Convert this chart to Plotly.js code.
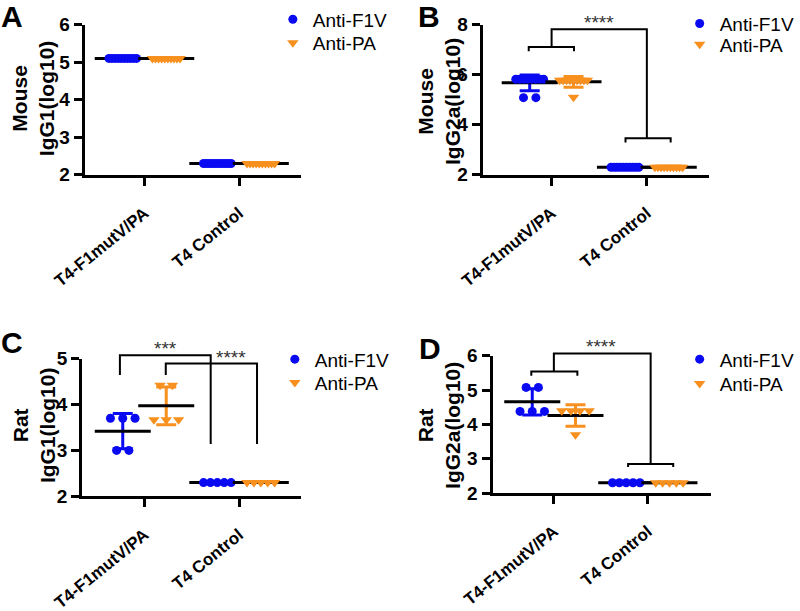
<!DOCTYPE html>
<html>
<head>
<meta charset="utf-8">
<script src="https://cdn.plot.ly/plotly-3.0.1.min.js"></script>
<style>body{margin:0;background:#fff;} #chart{width:800px;height:611px;}</style>
</head>
<body>
<div id="chart"></div>
<script>
// ---------- data ----------
const categories = ['T4-F1mutV/PA', 'T4 Control'];
const seriesNames = ['Anti-F1V', 'Anti-PA'];

// Panel A: Mouse IgG1 (log10)
const mouseIgG1_F1V_vaccine = [5.1,5.1,5.1,5.1,5.1,5.1,5.1,5.1,5.1,5.1];
const mouseIgG1_F1V_control = [2.3,2.3,2.3,2.3,2.3,2.3,2.3,2.3,2.3,2.3];
const mouseIgG1_PA_vaccine  = [5.1,5.1,5.1,5.1,5.1,5.1,5.1,5.1,5.1,5.1];
const mouseIgG1_PA_control  = [2.3,2.3,2.3,2.3,2.3,2.3,2.3,2.3,2.3,2.3];

// Panel B: Mouse IgG2a (log10)
const mouseIgG2a_F1V_vaccine = [5.82,5.82,5.82,5.82,5.82,5.82,5.82,5.82,5.08,5.08];
const mouseIgG2a_F1V_control = [2.3,2.3,2.3,2.3,2.3,2.3,2.3,2.3,2.3,2.3];
const mouseIgG2a_PA_vaccine  = [5.78,5.78,5.78,5.78,5.78,5.78,5.78,5.78,5.78,5.1];
const mouseIgG2a_PA_control  = [2.3,2.3,2.3,2.3,2.3,2.3,2.3,2.3,2.3,2.3];

// Panel C: Rat IgG1 (log10)
const ratIgG1_F1V_vaccine = [3.7,3.7,3.7,3.0,3.0];
const ratIgG1_F1V_control = [2.3,2.3,2.3,2.3,2.3];
const ratIgG1_PA_vaccine  = [4.42,4.42,3.67,3.67,3.67];
const ratIgG1_PA_control  = [2.3,2.3,2.3,2.3,2.3];

// Panel D: Rat IgG2a (log10)
const ratIgG2a_F1V_vaccine = [5.08,5.08,4.38,4.38,4.38];
const ratIgG2a_F1V_control = [2.3,2.3,2.3,2.3,2.3];
const ratIgG2a_PA_vaccine  = [4.4,4.4,4.4,4.4,3.7];
const ratIgG2a_PA_control  = [2.3,2.3,2.3,2.3,2.3];

const yTitles = ['Mouse<br>IgG1(log10)', 'Mouse<br>IgG2a(log10)', 'Rat<br>IgG1(log10)', 'Rat<br>IgG2a(log10)'];
const panelLetters = ['A', 'B', 'C', 'D'];

// ---------- style ----------
const BLUE = '#0a0af2';
const ORANGE = '#f7901e';
const FONT = '"Liberation Sans", Arial, Helvetica, sans-serif';
const W = 800, H = 611;
const PX_PER_UNIT = 96;
const SERIES_OFFSET = 0.23;

function mean(a){ return a.reduce((s,v)=>s+v,0)/a.length; }
function sd(a){ const m=mean(a); if(a.length<2) return 0; return Math.sqrt(a.reduce((s,v)=>s+(v-m)*(v-m),0)/(a.length-1)); }
function spread(values, center){
  const xs = new Array(values.length);
  const groups = new Map();
  values.forEach((v,i)=>{ if(!groups.has(v)) groups.set(v,[]); groups.get(v).push(i); });
  groups.forEach(idx=>{
    const n = idx.length;
    const step = n>1 ? Math.min(12.5, 28/(n-1)) : 0;
    idx.forEach((i,k)=>{ xs[i] = center + (k-(n-1)/2)*step/PX_PER_UNIT; });
  });
  return xs;
}

// legend: x = left of legend box (px), y = centres of the two entries (px)
const panels = [
  {f1v:[mouseIgG1_F1V_vaccine, mouseIgG1_F1V_control], pa:[mouseIgG1_PA_vaccine, mouseIgG1_PA_control],
   xpx:[86,306], cats:[146.7,242.7], ypx:[173.3,22.7], yr:[2,6], dtick:1,
   legX:277, legY:[17.5,41], titleX:33, titleY:97, letter:[12,15]},
  {f1v:[mouseIgG2a_F1V_vaccine, mouseIgG2a_F1V_control], pa:[mouseIgG2a_PA_vaccine, mouseIgG2a_PA_control],
   xpx:[490,720], cats:[560,656.7], ypx:[173.3,22.7], yr:[2,8], dtick:2,
   legX:690, legY:[21.7,42.5], titleX:445, titleY:100, letter:[436,15]},
  {f1v:[ratIgG1_F1V_vaccine, ratIgG1_F1V_control], pa:[ratIgG1_PA_vaccine, ratIgG1_PA_control],
   xpx:[83.3,306], cats:[146.7,242.7], ypx:[496,357.7], yr:[2,5], dtick:1,
   legX:279, legY:[358.5,382], titleX:34, titleY:424, letter:[12,342]},
  {f1v:[ratIgG2a_F1V_vaccine, ratIgG2a_F1V_control], pa:[ratIgG2a_PA_vaccine, ratIgG2a_PA_control],
   xpx:[500,721.7], cats:[562.3,657.7], ypx:[492.7,355], yr:[2,6], dtick:1,
   legX:690, legY:[358.5,383], titleX:445, titleY:425, letter:[437,348]}
];

function toPaper(pi, x, y){
  const p = panels[pi];
  const unit = p.cats[1]-p.cats[0];
  const px = p.cats[0] + x*unit;
  const py = p.ypx[0] - (y - p.yr[0])/(p.yr[1]-p.yr[0])*(p.ypx[0]-p.ypx[1]);
  return [px/W, 1-py/H];
}

const traces = [];
const layout = {
  width: W, height: H,
  margin: {l:0, r:0, t:0, b:0},
  paper_bgcolor: '#fff', plot_bgcolor: '#fff',
  font: {family: FONT, color: '#000'},
  shapes: [], annotations: []
};

let legendCount = 0;
function newLegend(xpx, ypx){
  legendCount += 1;
  const name = legendCount === 1 ? 'legend' : 'legend' + legendCount;
  layout[name] = {
    x: xpx/W, y: 1-ypx/H, xanchor: 'left', yanchor: 'middle',
    bgcolor: 'rgba(0,0,0,0)', borderwidth: 0, itemwidth: 30,
    font: {family: FONT, size: 19, color: '#000'}
  };
  return name;
}

panels.forEach((p, pi) => {
  const sfx = pi === 0 ? '' : String(pi+1);
  const xa = 'x' + sfx, ya = 'y' + sfx;
  const unit = p.cats[1] - p.cats[0];
  const xr = [(p.xpx[0]-p.cats[0])/unit, (p.xpx[1]-p.cats[0])/unit];

  layout['xaxis' + sfx] = {
    domain: [p.xpx[0]/W, p.xpx[1]/W], range: xr, anchor: ya,
    tickvals: [0,1], ticktext: categories, tickangle: -39, ticklabelstandoff: 11,
    ticks: 'outside', ticklen: 8, tickwidth: 3, tickcolor: '#000',
    showline: true, linewidth: 3, linecolor: '#000',
    showgrid: false, zeroline: false, fixedrange: true,
    tickfont: {family: FONT, size: 17, weight: 'bold', color: '#000'}
  };
  layout['yaxis' + sfx] = {
    domain: [1-p.ypx[0]/H, 1-p.ypx[1]/H], range: p.yr, anchor: xa,
    tickmode: 'linear', tick0: 2, dtick: p.dtick,
    ticks: 'outside', ticklen: 8, tickwidth: 3, tickcolor: '#000',
    showline: true, linewidth: 3, linecolor: '#000',
    showgrid: false, zeroline: false, fixedrange: true,
    tickfont: {family: FONT, size: 19, weight: 'bold', color: '#000'}
  };

  [[p.f1v, BLUE, 'circle', 9, -SERIES_OFFSET, 0], [p.pa, ORANGE, 'triangle-down', 10, SERIES_OFFSET, 1]].forEach(([groups, color, symbol, msize, off, si]) => {
    groups.forEach((vals, gi) => {
      traces.push({
        type: 'scatter', mode: 'markers', xaxis: xa, yaxis: ya, showlegend: false, hoverinfo: 'skip',
        x: [gi + off], y: [mean(vals)],
        marker: {symbol: 'line-ew', size: 40, color: '#000', line: {width: 3, color: '#000'}},
        error_y: {type: 'data', array: [sd(vals)], visible: sd(vals) > 0, color: color, thickness: 3, width: 10}
      });
    });
    let xs = [], ys = [];
    groups.forEach((vals, gi) => { xs = xs.concat(spread(vals, gi + off)); ys = ys.concat(vals); });
    traces.push({
      type: 'scatter', mode: 'markers', xaxis: xa, yaxis: ya, name: seriesNames[si],
      legend: newLegend(p.legX, p.legY[si]), showlegend: true, hoverinfo: 'skip',
      x: xs, y: ys,
      marker: {symbol: symbol, size: msize, color: color, line: {width: 0}}
    });
  });

  layout.annotations.push({
    xref: 'paper', yref: 'paper', x: p.titleX/W, y: 1-p.titleY/H, xanchor: 'center', yanchor: 'middle',
    text: yTitles[pi], textangle: -90, showarrow: false,
    font: {family: FONT, size: 21, weight: 'bold', color: '#000'}
  });
  layout.annotations.push({
    xref: 'paper', yref: 'paper', x: p.letter[0]/W, y: 1-p.letter[1]/H, xanchor: 'center', yanchor: 'middle',
    text: panelLetters[pi], showarrow: false,
    font: {family: FONT, size: 30, weight: 'bold', color: '#000'}
  });
});

// ---------- significance brackets ----------
function bracket(pi, pts){
  const path = pts.map(line => line.map((pt, k) => {
    const q = toPaper(pi, pt[0], pt[1]);
    return (k === 0 ? 'M ' : 'L ') + q[0].toFixed(5) + ',' + q[1].toFixed(5);
  }).join(' ')).join(' ');
  layout.shapes.push({type: 'path', xref: 'paper', yref: 'paper', path: path, line: {color: '#000', width: 2}});
}
function stars(pi, x, y, text){
  const q = toPaper(pi, x, y);
  layout.annotations.push({xref: 'paper', yref: 'paper', x: q[0], y: q[1], text: text, showarrow: false,
    xanchor: 'center', yanchor: 'bottom', yshift: -6, font: {family: FONT, size: 19, color: '#333'}});
}
// B
bracket(1, [[[-0.24,6.94],[-0.24,7.11],[0.235,7.11],[0.235,6.94]],
            [[0,7.11],[0,7.82],[1.0,7.82],[1.0,3.46]],
            [[0.776,3.29],[0.776,3.46],[1.25,3.46],[1.25,3.29]]]);
stars(1, 0.5, 7.82, '****');
// C
bracket(2, [[[-0.26,4.64],[-0.26,5.07],[0.70,5.07],[0.70,3.14]]]);
bracket(2, [[[0.225,4.64],[0.225,4.89],[1.19,4.89],[1.19,3.14]]]);
stars(2, 0.22, 5.07, '***');
stars(2, 0.92, 4.89, '****');
// D
bracket(3, [[[-0.24,5.42],[-0.24,5.54],[0.25,5.54],[0.25,5.42]],
            [[0,5.54],[0,6.07],[1.03,6.07],[1.03,2.85]],
            [[0.79,2.76],[0.79,2.85],[1.27,2.85],[1.27,2.76]]]);
stars(3, 0.5, 6.07, '****');

Plotly.newPlot('chart', traces, layout, {staticPlot: true, displayModeBar: false});
</script>
</body>
</html>
